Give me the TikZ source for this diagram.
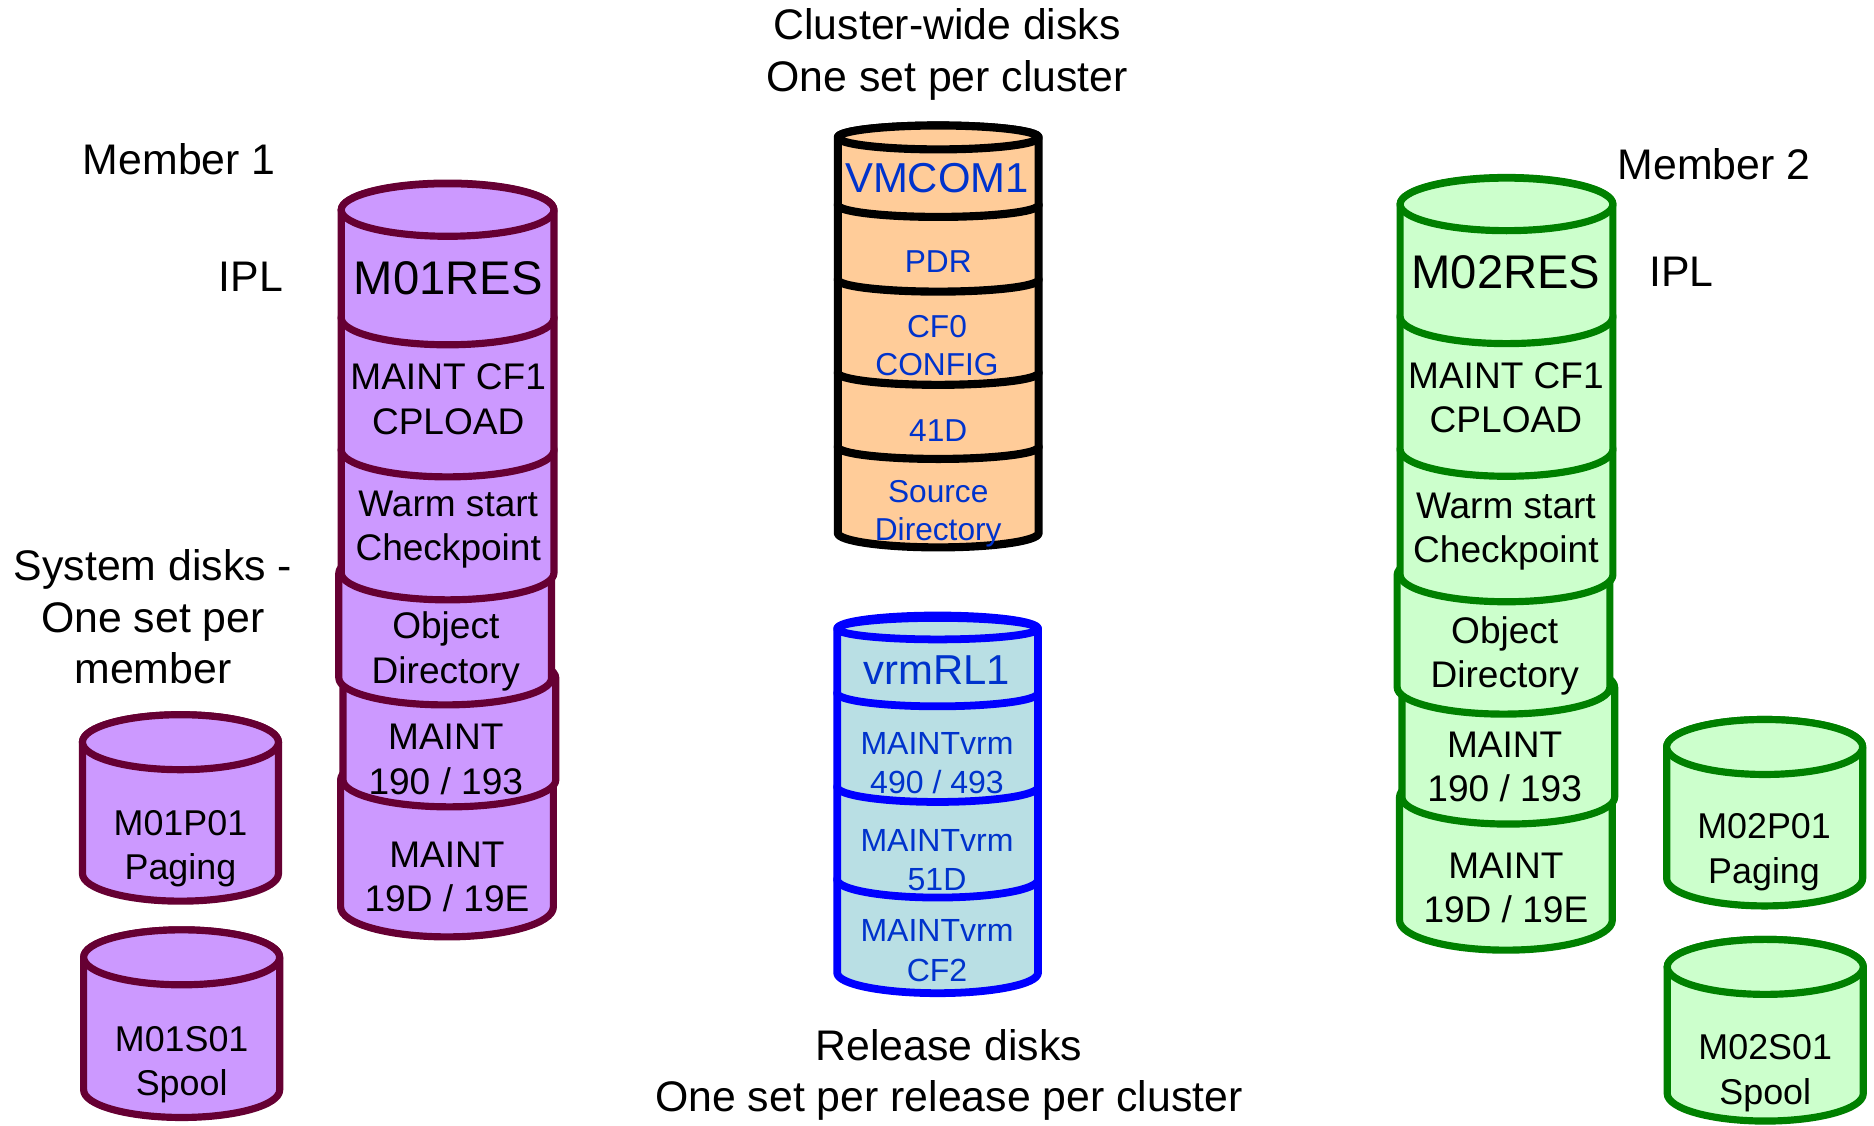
\documentclass[tikz,border=0pt]{standalone}
\usepackage{fontspec}
\setmainfont{Liberation Sans}
\definecolor{purpfill}{HTML}{CC99FF}
\definecolor{purpline}{HTML}{660033}
\definecolor{greenfill}{HTML}{CCFFCC}
\definecolor{greenline}{HTML}{008000}
\definecolor{orangefill}{HTML}{FFCC99}
\definecolor{bluefill}{HTML}{B9DFE4}
\definecolor{blueline}{HTML}{0000FF}
\definecolor{txtblue}{HTML}{0033CC}
\newcommand\diskseg[6]{\filldraw[#1] ({#2-#5},#3) -- ({#2-#5},#4) arc[start angle=180,end angle=0,x radius=#5,y radius=#6] -- ({#2+#5},#3) arc[start angle=0,end angle=-180,x radius=#5,y radius=#6] -- cycle;}
\newcommand\disktop[5]{\filldraw[#1] (#2,#3) ellipse[x radius=#4,y radius=#5];}
\tikzset{
  lbl/.style={font=\fontsize{35.8}{42.8}\selectfont, align=center, inner sep=0pt},
  dtxt/.style={font=\fontsize{31}{37}\selectfont, align=center, inner sep=0pt},
  bigtxt/.style={font=\fontsize{39.5}{44}\selectfont, inner sep=0pt},
  otxt/.style={font=\fontsize{26.5}{32}\selectfont, align=center, text=txtblue, inner sep=0pt},
  btxt/.style={font=\fontsize{26.8}{33}\selectfont, align=center, text=txtblue, inner sep=0pt},
  bluebig/.style={font=\fontsize{35}{40}\selectfont, text=txtblue, inner sep=0pt},
  smtxt/.style={font=\fontsize{30}{37}\selectfont, align=center, inner sep=0pt},
  purp/.style={fill=purpfill, draw=purpline, line width=6pt, line join=round},
  grn/.style={fill=greenfill, draw=greenline, line width=6pt, line join=round},
  orng/.style={fill=orangefill, draw=black, line width=6.8pt, line join=round},
  blu/.style={fill=bluefill, draw=blueline, line width=6.5pt, line join=round},
}
\begin{document}
\begin{tikzpicture}[x=1pt,y=-1pt]
\useasboundingbox[fill=white] (0,0) rectangle (1568,942);

% ---------- purple stack (Member 1) ----------
\diskseg{purp}{374}{652.6}{758.9}{89}{25}
\diskseg{purp}{376}{567.3}{652.6}{89}{22.5}
\diskseg{purp}{372.5}{479.4}{567.3}{89}{22.5}
\diskseg{purp}{374.5}{376.5}{479.4}{89}{22.5}
\diskseg{purp}{374.5}{266}{376.5}{89}{22.5}
\diskseg{purp}{374.5}{175.7}{266}{89}{22.5}
\disktop{purp}{374.5}{175.7}{89}{22}

% purple small cylinders
\diskseg{purp}{151}{621}{731}{82}{23}
\disktop{purp}{151}{621}{82}{23}
\diskseg{purp}{152}{801}{912}{82}{23}
\disktop{purp}{152}{801}{82}{23}

% ---------- green stack (Member 2) ----------
\diskseg{grn}{1260}{667}{770}{89}{25}
\diskseg{grn}{1262}{575}{667}{89}{22.5}
\diskseg{grn}{1258}{481}{575}{89}{22.5}
\diskseg{grn}{1260.5}{376}{481}{89}{22.5}
\diskseg{grn}{1260.5}{265}{376}{89}{22.5}
\diskseg{grn}{1260.5}{171}{265}{89}{22.5}
\disktop{grn}{1260.5}{171}{89}{22}

% green small cylinders
\diskseg{grn}{1476.5}{625}{735}{82}{23}
\disktop{grn}{1476.5}{625}{82}{23}
\diskseg{grn}{1477}{809}{915}{82}{23}
\disktop{grn}{1477}{809}{82}{23}

% ---------- orange stack (cluster-wide) ----------
\diskseg{orng}{785}{374}{446}{84}{12}
\diskseg{orng}{785}{312}{374}{84}{10}
\diskseg{orng}{785}{234}{312}{84}{10}
\diskseg{orng}{785}{171.5}{234}{84}{10}
\diskseg{orng}{785}{115}{171.5}{84}{10}
\disktop{orng}{785}{115}{84}{10}

% ---------- blue stack (release) ----------
\diskseg{blu}{784.5}{736}{814}{84}{17}
\diskseg{blu}{784.5}{658.5}{736}{84}{15}
\diskseg{blu}{784.5}{580}{658.5}{84}{12.5}
\diskseg{blu}{784.5}{526}{580}{84}{11}
\disktop{blu}{784.5}{526}{84}{9}

% ---------- texts: purple ----------
\node[bigtxt] (m01res) at (375,233) {M01RES};
\node[dtxt] (m01cf1) at (375,334) {MAINT CF1\\CPLOAD};
\node[dtxt] (m01warm) at (375,443) {Warm start\\Checkpoint};
\node[dtxt] (m01obj) at (373,545) {Object\\Directory};
\node[dtxt] (m01190) at (373,635.5) {MAINT\\190 / 193};
\node[dtxt] (m0119d) at (374,734) {MAINT\\19D / 19E};
\node[smtxt] (m01p01) at (151,710) {M01P01\\Paging};
\node[smtxt] (m01s01) at (152,891) {M01S01\\Spool};

% ---------- texts: green ----------
\node[bigtxt] (m02res) at (1260,228) {M02RES};
\node[dtxt] (m02cf1) at (1260,333) {MAINT CF1\\CPLOAD};
\node[dtxt] (m02warm) at (1260,445) {Warm start\\Checkpoint};
\node[dtxt] (m02obj) at (1259,549) {Object\\Directory};
\node[dtxt] (m02190) at (1259,642) {MAINT\\190 / 193};
\node[dtxt] (m0219d) at (1260,743) {MAINT\\19D / 19E};
\node[smtxt] (m02p01) at (1476,713) {M02P01\\Paging};
\node[smtxt] (m02s01) at (1477,898) {M02S01\\Spool};

% ---------- texts: orange ----------
\node[bluebig] (vmcom) at (784,149) {VMCOM1};
\node[otxt] (pdr) at (785,218.5) {PDR};
\node[otxt] (cf0) at (784,289) {CF0\\CONFIG};
\node[otxt] (d41) at (785,360.5) {41D};
\node[otxt] (srcdir) at (785,430) {Source\\Directory};

% ---------- texts: blue ----------
\node[bluebig] (vrm) at (784,561) {vrmRL1};
\node[btxt] (m490) at (784,638.5) {MAINTvrm\\490 / 493};
\node[btxt] (m51d) at (784,719.5) {MAINTvrm\\51D};
\node[btxt] (mcf2) at (784,795.5) {MAINTvrm\\CF2};

% ---------- labels ----------
\node[lbl] (cluster) at (792.5,45.5) {Cluster-wide disks\\One set per cluster};
\node[lbl] (member1) at (150,133) {Member 1};
\node[lbl] (ipl1) at (210,232) {IPL};
\node[lbl] (sysdisks) at (128,516) {System disks -\\One set per\\member};
\node[lbl] (member2) at (1434,137) {Member 2};
\node[lbl] (ipl2) at (1407,227) {IPL};
\node[lbl] (release) at (794,899.5) {Release disks\\One set per release per cluster};
\end{tikzpicture}
\end{document}
